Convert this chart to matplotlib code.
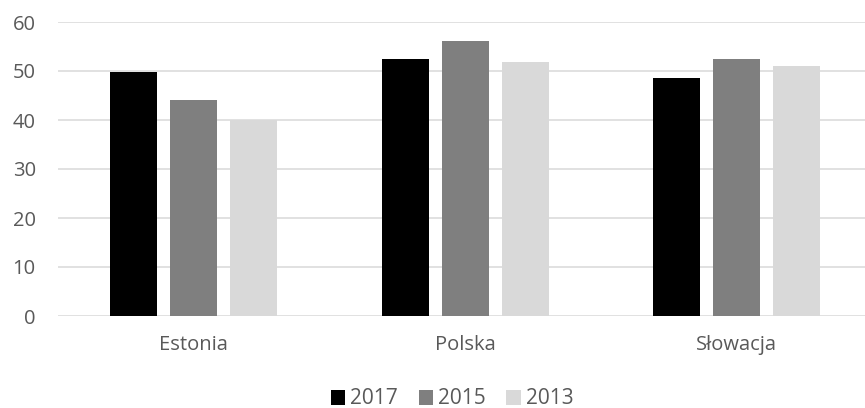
import matplotlib.pyplot as plt
import numpy as np
from matplotlib.patches import Patch

countries = ['Estonia', 'Polska', 'Słowacja']
years = ['2017', '2015', '2013']
values_2017 = [49.7, 52.5, 48.6]
values_2015 = [44.1, 56.1, 52.4]
values_2013 = [40.0, 51.8, 51.1]
yticks = [0, 10, 20, 30, 40, 50, 60]

colors = ['#000000', '#7f7f7f', '#d9d9d9']
text_color = '#595959'

plt.rcParams['font.family'] = ['Open Sans', 'DejaVu Sans']

fig = plt.figure(figsize=(8.65, 4.08), dpi=100)
ax = fig.add_axes([58 / 865, 92 / 408, 1 - 58 / 865, 294 / 408])

x = np.arange(len(countries))
offset = 0.221
width = 0.173
series = [values_2017, values_2015, values_2013]
for i, vals in enumerate(series):
    ax.bar(x + (i - 1) * offset, vals, width=width, color=colors[i],
           edgecolor='none', zorder=3)

ax.set_xlim(-0.5, 2.472)
ax.set_ylim(0, 60)
ax.set_yticks(yticks)
ax.set_xticks(x)
ax.set_xticklabels(countries)

ax.yaxis.grid(True, color='#d9d9d9', linewidth=1.1, zorder=0)
ax.set_axisbelow(True)
for side in ['top', 'right', 'left', 'bottom']:
    ax.spines[side].set_visible(False)
ax.tick_params(axis='both', length=0, labelcolor=text_color, labelsize=14.5)
ax.tick_params(axis='y', pad=16)
ax.tick_params(axis='x', pad=14)

# legend row under the axes
handles = [Patch(facecolor=c, edgecolor='none') for c in colors]
fig.legend(handles, years, loc='center', bbox_to_anchor=(452 / 865, 1 - 399 / 408),
           ncol=3, frameon=False, fontsize=15, labelcolor=text_color,
           handlelength=0.7, handleheight=0.7, handletextpad=0.22,
           columnspacing=1.0, borderpad=0)

fig.savefig('out.png', dpi=100)
